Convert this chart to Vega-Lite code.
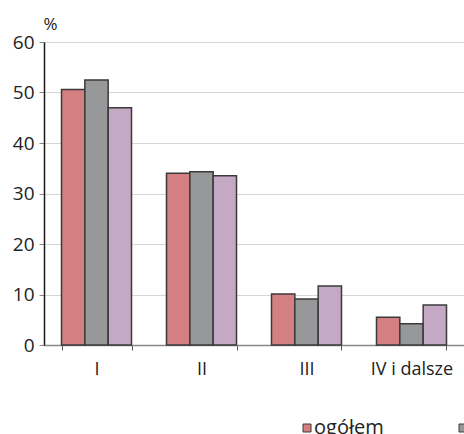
{
  "$schema": "https://vega.github.io/schema/vega-lite/v6.json",
  "autosize": "none",
  "width": 420,
  "height": 303,
  "padding": {"left": 44, "top": 42, "right": 0, "bottom": 89},
  "background": "white",
  "config": {
    "font": "Open Sans",
    "view": {"stroke": null}
  },
  "data": {
    "values": [
      {"kat": "I", "grupa": "ogółem", "v": 50.6},
      {"kat": "I", "grupa": "miasta", "v": 52.5},
      {"kat": "I", "grupa": "wieś", "v": 47.0},
      {"kat": "II", "grupa": "ogółem", "v": 34.0},
      {"kat": "II", "grupa": "miasta", "v": 34.3},
      {"kat": "II", "grupa": "wieś", "v": 33.5},
      {"kat": "III", "grupa": "ogółem", "v": 10.1},
      {"kat": "III", "grupa": "miasta", "v": 9.1},
      {"kat": "III", "grupa": "wieś", "v": 11.7},
      {"kat": "IV i dalsze", "grupa": "ogółem", "v": 5.5},
      {"kat": "IV i dalsze", "grupa": "miasta", "v": 4.2},
      {"kat": "IV i dalsze", "grupa": "wieś", "v": 7.9}
    ]
  },
  "mark": {"type": "bar", "stroke": "#3a3a3a", "strokeWidth": 1.5},
  "encoding": {
    "x": {
      "field": "kat", "type": "nominal", "sort": null,
      "scale": {"paddingInner": 0.3333, "paddingOuter": 0.1667},
      "axis": {
        "title": null, "labelAngle": 0, "labelFontSize": 18, "labelColor": "#222",
        "labelPadding": 10, "tickBand": "extent", "tickSize": 5, "tickColor": "#555",
        "domainColor": "#888", "domainWidth": 1.5, "grid": false
      }
    },
    "xOffset": {"field": "grupa", "type": "nominal", "sort": ["ogółem", "miasta", "wieś"]},
    "y": {
      "field": "v", "type": "quantitative",
      "scale": {"domain": [0, 60], "nice": false},
      "axis": {
        "values": [0, 10, 20, 30, 40, 50, 60],
        "title": "%", "titleAngle": 0, "titleAlign": "left", "titleBaseline": "bottom",
        "titleX": -1, "titleY": -9, "titleFontSize": 17, "titleFontWeight": "normal", "titleColor": "#222",
        "labelFontSize": 19, "labelColor": "#222", "labelPadding": 5,
        "tickSize": 5, "tickColor": "#888", "domainColor": "#1a1a1a", "domainWidth": 1.5,
        "gridColor": "#aaa", "gridDash": [1, 1], "gridWidth": 1
      }
    },
    "color": {
      "field": "grupa", "type": "nominal", "sort": ["ogółem", "miasta", "wieś"],
      "scale": {"domain": ["ogółem", "miasta", "wieś"], "range": ["#d47f82", "#97989a", "#c4a8c4"]},
      "legend": {
        "title": null, "orient": "none", "direction": "horizontal",
        "legendX": 253, "legendY": 376,
        "symbolType": "square", "symbolSize": 64, "symbolStrokeColor": "#3a3a3a", "symbolStrokeWidth": 1,
        "labelFontSize": 20, "labelColor": "#222", "labelOffset": -3, "columnPadding": 69
      }
    }
  }
}
